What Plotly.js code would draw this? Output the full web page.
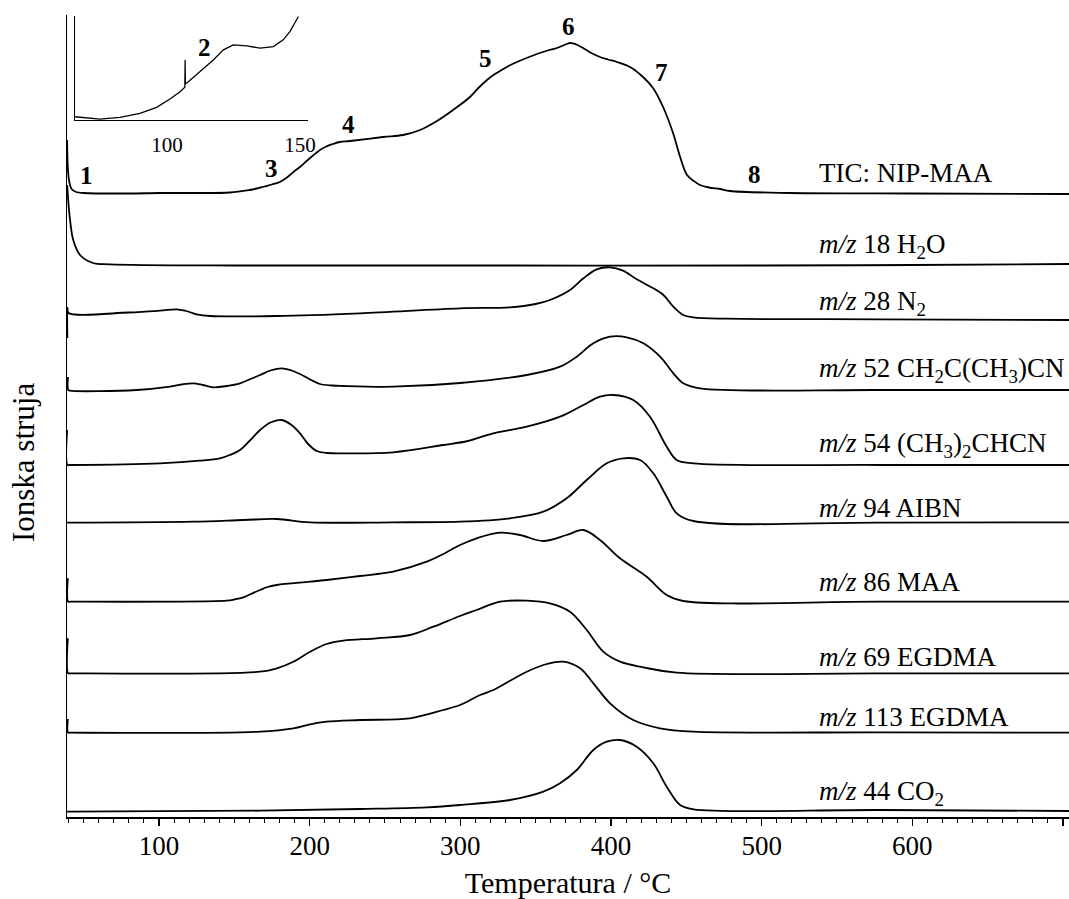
<!DOCTYPE html>
<html>
<head>
<meta charset="utf-8">
<script src="https://cdn.plot.ly/plotly-3.0.1.min.js"></script>
<style>html,body{margin:0;padding:0;background:#fff;}#chart{width:1069px;height:899px;}</style>
</head>
<body>
<div id="chart"></div>
<script>
// ---- data (x: temperature / °C, y: ion current, arbitrary offset units) ----
const ticX = [39.0,39.6,40.5,42,45,50,80,100,122,147,160,165,170,175,180.3,184,187,190,193.6,200.3,206.9,211,215.5,220,226.8,248.7,262,273.3,284.5,295.2,306.4,312,317.7,322,326.4,332,337.6,350.9,358,364.2,369,372.8,377,381.5,387,392.7,398,404,412.6,421.3,427.9,434.6,441.2,445.9,450.5,455,459.1,465,472.4,479.1,519,600,704];
const ticY = [677,647,635,628,625,624,623.5,624,624,624.5,627,628.5,630.5,632.5,635,638.5,642,646,650,659,667,670.5,673,675,676,680,682,687,696,707,720,729,737,742,746,751,755,763,766.5,769,772,774,772.5,769,764,760,757.5,755,750,740,729,710,684,660,642,636,632,629.5,628,626,624,623.5,623];

const h2oX = [39.1,40.0,41.0,43.1,47.6,56.2,67.5,150,300,500,600,704];
const h2oY = [632,612,597,577,562,554,552.7,551.5,551.5,551.5,552,553];

const n2X = [39.2,39.3,40.0,80,100.7,111.8,118,125.0,133.9,178.2,233.4,299.8,333.0,350,359.5,372.8,381.7,390.5,399.4,408.0,417.1,428.1,434.8,441.4,448.0,454.7,476.8,578.6,704];
const n2Y = [479,509,504,504.5,506.3,507.7,506,502.7,501,501,503.7,508.7,509.7,513,517,527,538.7,547.7,549.7,546.3,537.7,528.7,522,510.3,502,499.7,498.3,497.7,497];

const m52X = [39.6,39.8,41,85.2,107.3,115,122.8,129,136.1,145,153.8,160,167.1,174,181.5,188,193.6,200.3,206.9,215,222.4,255.5,300,344.1,366.2,377.3,388.3,399.4,410.5,421.5,432.6,441.4,448.0,459.1,578.6,704];
const m52Y = [440,427,426.3,427,430.3,432.5,433.7,432,429.7,431,433.7,437.5,442,446.5,448.7,446.5,443,437.5,433,431.5,431,430.3,434,442,450.3,460.3,473.7,480.3,479.7,473.7,460.3,443.7,433.7,428.7,427,427];

const m54X = [39.1,39.3,41,100.7,127.2,140.5,147,153.8,160,167.1,174,181.5,188,193.6,199,204.7,212,222.4,255.5,288.7,305,321.9,344.1,366.2,381.7,392.7,401.6,414.8,425.9,437.0,443.6,454.7,578.6,704];
const m54Y = [387,352,352,353.7,356.3,358.7,362,367,376,387,394.5,397,392,383.7,373,366,364,363.7,364.7,372,376,383.7,390.3,400.3,412,420.3,422,417,400.3,370.3,357,353.7,352,352];

const m94X = [39.0,122.8,156.0,178.2,200.3,255.5,299.8,333.0,355.1,370.6,383.9,397.2,408.2,419.3,428.1,437.0,443.6,454.7,578.6,704];
const m94Y = [294.3,295.3,297,298,294.7,294.7,295.3,298.7,305.3,318.7,337,353.7,358.7,357,343.7,320.3,303.7,296,294.3,294.7];

const m86X = [39.5,39.7,41,145.0,150,156.0,161,167.1,172,178.2,200.3,211.3,233.4,255.5,277.7,290,299.8,310.9,326.4,339.6,355.1,370.6,381.7,392.7,406.0,423.7,437.0,448.0,578.6,704];
const m86Y = [238.7,215.3,215.3,216.3,217.5,219.7,223,227,230,232,235.3,237,241,245.3,255.3,264,272,278.7,284.3,282,276,282,287,277,258.7,240.3,222,216,215.3,215.3];

const m69X = [39.5,39.7,41,167.1,178.2,189.2,200.3,211.3,222.4,244.5,266.6,282.1,299.8,310.9,326.4,344.1,359.5,372.8,383.9,394.9,406.0,421.5,443.6,578.6,704];
const m69Y = [178.7,143.7,143.7,145.3,148.7,155.3,165.3,173,176.3,178.7,182,190.3,201,207,215.3,216.3,213.7,205.3,187,165.3,155.3,149.7,144.3,143.7,143.7];

const m113X = [39.5,39.7,41,167.1,189.2,200.3,211.3,233.4,266.6,288.7,299.8,313.1,321.9,344.1,357.4,368.4,379.5,388.3,399.4,414.8,432.6,454.7,578.6,704];
const m113Y = [98,84.3,84.3,85.3,88.7,92.7,95.3,97,98.7,107,112,122,127,145.3,153,155.3,148.7,133.7,113.7,97,88.7,85.3,84.7,84.3];

const co2X = [39.0,167.1,233.4,277.7,299.8,333.0,355.1,366.2,377.3,388.3,397.2,406.0,417.1,428.1,437.0,445.9,454.7,578.6,704];
const co2Y = [5.3,6.3,8,9.7,12,17,25.3,33.7,47,67,75.3,77,70.3,53.7,30.3,12,7.7,7,6];

// inset: TIC between 65 and 150 °C
const insetX = [65.4,71.1,74.8,82.3,89.8,96.1,101.1,104.9,106.7,106.8,106.9,108.0,112.4,117.4,121.2,124.9,130,135,140,143.7,146.2,149.4];
const insetY = [3.3,1.7,1,2.7,6.7,12.7,21,28.3,32.7,60,36,38.3,48.3,60,70,75,74,71.7,73.3,80,88.3,103.3];

const curveLabels = ['TIC: NIP-MAA','<i>m/z</i> 18 H<sub>2</sub>O','<i>m/z</i> 28 N<sub>2</sub>',
  '<i>m/z</i> 52 CH<sub>2</sub>C(CH<sub>3</sub>)CN','<i>m/z</i> 54 (CH<sub>3</sub>)<sub>2</sub>CHCN',
  '<i>m/z</i> 94 AIBN','<i>m/z</i> 86 MAA','<i>m/z</i> 69 EGDMA','<i>m/z</i> 113 EGDMA','<i>m/z</i> 44 CO<sub>2</sub>'];
const labelY = [644,571,514,447,372,309,235,160,100,24];
const eventLabels = ['1','2','3','4','5','6','7','8'];
const eventX = [51.6,129.9,174.8,225.7,316.4,371.7,433.7,495];
const eventY = [642,770,649,693,759,791,745,643];

// ---- traces ----
const FONT = 'Liberation Serif, Times New Roman, serif';
const series = [[ticX,ticY],[h2oX,h2oY],[n2X,n2Y],[m52X,m52Y],[m54X,m54Y],[m94X,m94Y],[m86X,m86Y],[m69X,m69Y],[m113X,m113Y],[co2X,co2Y]];
const traces = series.map(s => ({x:s[0], y:s[1], type:'scatter', mode:'lines',
  line:{color:'#000', width:1.8, shape:'spline', smoothing:1}, hoverinfo:'skip', xaxis:'x', yaxis:'y'}));
traces.push({x:insetX, y:insetY, type:'scatter', mode:'lines', line:{color:'#000', width:1.3}, xaxis:'x2', yaxis:'y2', hoverinfo:'skip'});

const annotations = [];
curveLabels.forEach((t,i) => annotations.push({text:t, x:536.8, y:labelY[i], xref:'x', yref:'y', xanchor:'left', yanchor:'middle', showarrow:false, font:{family:FONT, size:27, color:'#000'}}));
eventLabels.forEach((t,i) => annotations.push({text:'<b>'+t+'</b>', x:eventX[i], y:eventY[i], xref:'x', yref:'y', xanchor:'center', yanchor:'middle', showarrow:false, font:{family:FONT, size:25, color:'#000'}}));
annotations.push({text:'Ionska struja', xref:'paper', yref:'paper', x:-0.0439, y:0.4426, xanchor:'center', yanchor:'middle', textangle:-90, showarrow:false, font:{family:FONT, size:31, color:'#000'}});

const layout = {
  width:1069, height:899,
  margin:{l:67, r:0, t:15, b:82, pad:0},
  paper_bgcolor:'#fff', plot_bgcolor:'#fff',
  showlegend:false,
  font:{family:FONT, color:'#000'},
  xaxis:{range:[38.96,704], showline:true, linecolor:'#000', linewidth:1.5, showgrid:false, zeroline:false,
    tick0:0, dtick:100, ticks:'outside', ticklen:7, tickwidth:1.3, tickcolor:'#000',
    minor:{dtick:10, ticks:'outside', ticklen:4, tickwidth:1, tickcolor:'#000', showgrid:false},
    tickfont:{family:FONT, size:27, color:'#000'}, ticklabelstandoff:-3,
    title:{text:'Temperatura / °C', font:{family:FONT, size:30, color:'#000'}, standoff:12}},
  yaxis:{range:[0,802], showline:true, linecolor:'#000', linewidth:1.5, showgrid:false, zeroline:false,
    showticklabels:false, ticks:''},
  xaxis2:{domain:[0.008,0.2405], anchor:'y2', range:[65.4,153], showline:true, linecolor:'#000', linewidth:1,
    showgrid:false, zeroline:false, tickvals:[100,150], ticks:'', tickfont:{family:FONT, size:21, color:'#000'}, ticklabelstandoff:6},
  yaxis2:{domain:[0.869,0.999], anchor:'x2', range:[0,104], showline:true, linecolor:'#000', linewidth:1,
    showgrid:false, zeroline:false, showticklabels:false, ticks:''},
  annotations:annotations
};
Plotly.newPlot('chart', traces, layout, {staticPlot:true, displayModeBar:false});
</script>
</body>
</html>
